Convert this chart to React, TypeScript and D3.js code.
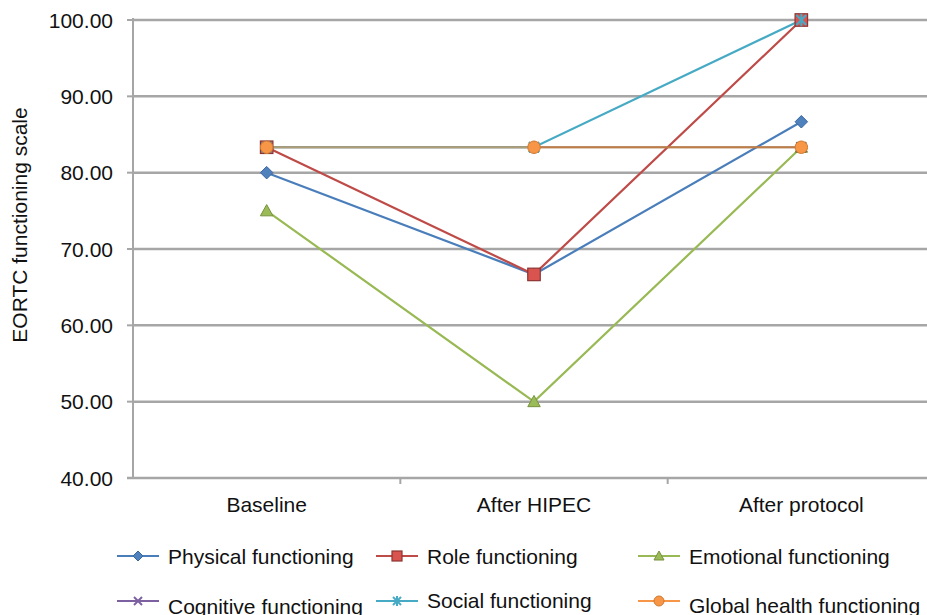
import React from 'react';
import * as d3 from 'd3';

const categories = ['Baseline', 'After HIPEC', 'After protocol'];
const yTicks = [40, 50, 60, 70, 80, 90, 100];

const physical = [80.0, 66.67, 86.67];
const role = [83.33, 66.67, 100.0];
const emotional = [75.0, 50.0, 83.33];
const cognitive = [83.33, 83.33, 83.33];
const social = [83.33, 83.33, 100.0];
const globalHealth = [83.33, 83.33, 83.33];

type Marker = 'diamond' | 'square' | 'triangle' | 'x' | 'star' | 'circle';
interface Series { name: string; values: number[]; color: string; fill: string; marker: Marker; opacity: number }

const series: Series[] = [
  { name: 'Physical functioning', values: physical, color: '#4a7ebb', fill: '#4f81bd', marker: 'diamond', opacity: 1 },
  { name: 'Role functioning', values: role, color: '#be4b48', fill: '#d9534f', marker: 'square', opacity: 1 },
  { name: 'Emotional functioning', values: emotional, color: '#98b954', fill: '#9bbb59', marker: 'triangle', opacity: 1 },
  { name: 'Cognitive functioning', values: cognitive, color: '#6b5a4a', fill: '#8064a2', marker: 'x', opacity: 1 },
  { name: 'Social functioning', values: social, color: '#46aac5', fill: '#4bacc6', marker: 'star', opacity: 1 },
  { name: 'Global health functioning', values: globalHealth, color: '#f79646', fill: '#f79646', marker: 'circle', opacity: 0.6 },
];

const W = 927;
const H = 615;
const left = 133;
const top = 20;
const bottom = 478;
const font = 'Liberation Sans, Arial, sans-serif';

function MarkerShape({ m, x, y, s, legend }: { m: Series; x: number; y: number; s: number; legend?: boolean }) {
  const r = 5 * s;
  const col = legend && m.marker === 'x' ? '#7d60a0' : m.color;
  switch (m.marker) {
    case 'diamond':
      return <path d={`M${x},${y - r}L${x + r},${y}L${x},${y + r}L${x - r},${y}Z`} fill={m.fill} stroke="#3a67a0" strokeWidth={1} />;
    case 'square':
      return <rect x={x - r} y={y - r} width={2 * r} height={2 * r} fill={m.fill} stroke="#8c3533" strokeWidth={1.2} />;
    case 'triangle':
      return <path d={`M${x},${y - r}L${x + r},${y + r * 0.8}L${x - r},${y + r * 0.8}Z`} fill={m.fill} stroke="#77933c" strokeWidth={1} />;
    case 'x':
      return (
        <g stroke={col} strokeWidth={2}>
          <line x1={x - r * 0.8} y1={y - r * 0.8} x2={x + r * 0.8} y2={y + r * 0.8} />
          <line x1={x - r * 0.8} y1={y + r * 0.8} x2={x + r * 0.8} y2={y - r * 0.8} />
        </g>
      );
    case 'star':
      return (
        <g stroke={m.color} strokeWidth={2}>
          <line x1={x - r * 0.8} y1={y - r * 0.8} x2={x + r * 0.8} y2={y + r * 0.8} />
          <line x1={x - r * 0.8} y1={y + r * 0.8} x2={x + r * 0.8} y2={y - r * 0.8} />
          <line x1={x} y1={y - r} x2={x} y2={y + r} />
        </g>
      );
    default:
      return <circle cx={x} cy={y} r={r} fill={m.fill} stroke="#d07a30" strokeWidth={1} />;
  }
}

export default function App() {
  const x = d3.scaleBand<string>().domain(categories).range([left, 935]);
  const y = d3.scaleLinear().domain([40, 100]).range([bottom, top]);
  const cx = (c: string) => (x(c) ?? 0) + x.bandwidth() / 2;

  const line = d3.line<number>()
    .x((_, i) => cx(categories[i]))
    .y(d => y(d));

  const legendCols = [117, 376, 638];
  const legendRows = [556, 601];
  const textY = [556, 556, 556, 606, 600, 605];

  return (
    <svg width={W} height={H} style={{ position: 'absolute', left: 0, top: 0, background: '#fff' }} fontFamily={font}>
      {yTicks.map(t => (
        <g key={t}>
          {t > 40 && <line x1={left} x2={W} y1={y(t)} y2={y(t)} stroke="#a6a6a6" strokeWidth={2.5} />}
          <line x1={left - 6} x2={left} y1={y(t)} y2={y(t)} stroke="#a6a6a6" strokeWidth={2} />
          <text x={113} y={y(t)} dy="0.36em" textAnchor="end" fontSize={21} fill="#111">{t.toFixed(2)}</text>
        </g>
      ))}
      <line x1={left} x2={left} y1={top - 2} y2={bottom} stroke="#a6a6a6" strokeWidth={2} />
      <line x1={left - 6} x2={W} y1={bottom} y2={bottom} stroke="#a6a6a6" strokeWidth={2.5} />
      {categories.map(c => (
        <g key={c}>
          <line x1={(x(c) ?? 0) + x.bandwidth()} x2={(x(c) ?? 0) + x.bandwidth()} y1={bottom} y2={bottom + 6} stroke="#a6a6a6" strokeWidth={2} />
          <text x={cx(c)} y={512} textAnchor="middle" fontSize={21} fill="#111">{c}</text>
        </g>
      ))}
      <text transform="translate(27,225) rotate(-90)" textAnchor="middle" fontSize={21} fill="#111">EORTC functioning scale</text>

      {series.map(s => (
        <path key={s.name} d={line(s.values) ?? ''} fill="none" stroke={s.color} strokeOpacity={s.opacity} strokeWidth={2.2} />
      ))}
      {series.map(s => (
        <g key={s.name + 'm'}>
          {s.values.map((v, i) => <MarkerShape key={i} m={s} x={cx(categories[i])} y={y(v)} s={1.25} />)}
        </g>
      ))}

      {series.map((s, i) => {
        const col = legendCols[i % 3];
        const ly = legendRows[Math.floor(i / 3)];
        return (
          <g key={s.name + 'l'}>
            <line x1={col} x2={col + 42} y1={ly} y2={ly} stroke={i === 3 ? '#7d60a0' : s.color} strokeWidth={2.2} />
            <MarkerShape m={s} x={col + 21} y={ly} s={1} legend />
            <text x={col + 51} y={textY[i]} dy="0.36em" fontSize={21} fill="#111">{s.name}</text>
          </g>
        );
      })}
    </svg>
  );
}
